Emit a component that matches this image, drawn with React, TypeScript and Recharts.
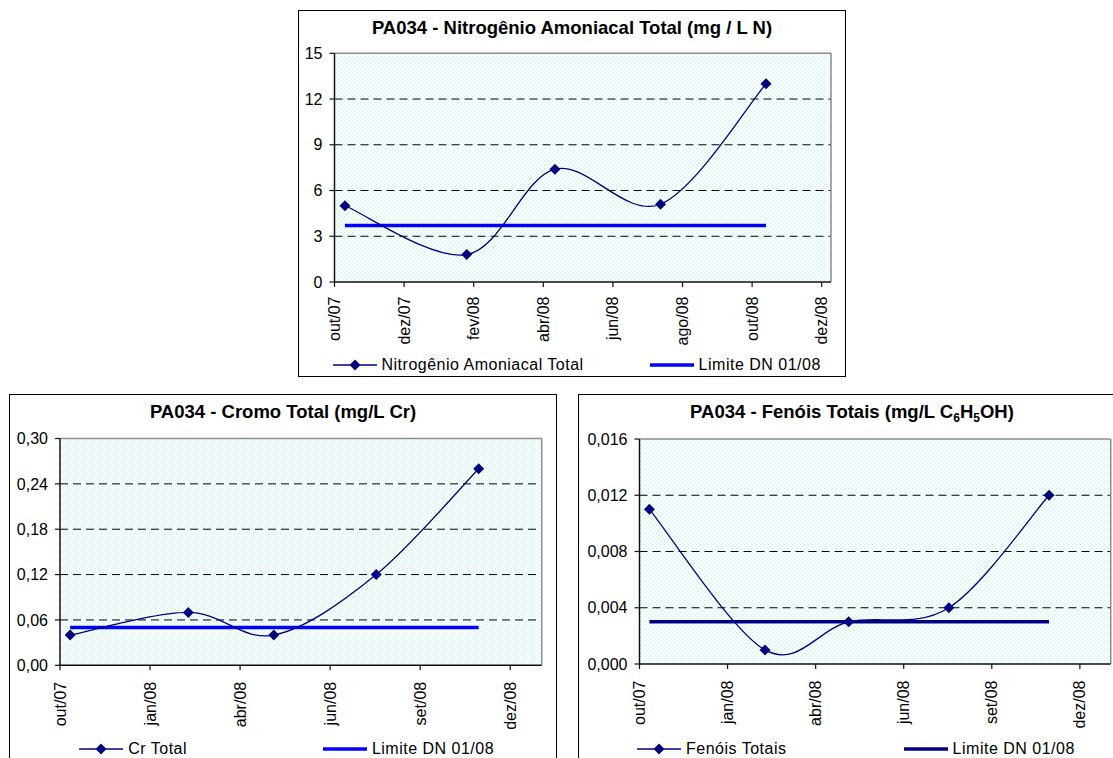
import React from "react";
import {
  LineChart,
  Line,
  XAxis,
  YAxis,
  CartesianGrid,
  ReferenceLine,
  Legend,
} from "recharts";

const FONT = '"Liberation Sans", Arial, Helvetica, sans-serif';
const NAVY = "#000080";
const BLUE = "#0000ff";

// sampling dates (same for the three parameters)
const sampleDates = ["2007-11-07", "2008-02-20", "2008-05-06", "2008-08-05", "2008-11-04"];

const nitrogenioValues = [5.0, 1.8, 7.4, 5.1, 13.0];
const nitrogenioLimit = 3.7;
const cromoValues = [0.04, 0.07, 0.04, 0.12, 0.26];
const cromoLimit = 0.05;
const fenoisValues = [0.011, 0.001, 0.003, 0.004, 0.012];
const fenoisLimit = 0.003;

const axisStart = "2007-10-29";
const axisEnd = "2008-12-30";

const topTickDates = ["2007-10-29", "2007-12-28", "2008-02-26", "2008-04-26", "2008-06-25", "2008-08-24", "2008-10-23", "2008-12-22"];
const topTickLabels = ["out/07", "dez/07", "fev/08", "abr/08", "jun/08", "ago/08", "out/08", "dez/08"];
const bottomTickDates = ["2007-10-29", "2008-01-17", "2008-04-06", "2008-06-25", "2008-09-13", "2008-12-02"];
const bottomTickLabels = ["out/07", "jan/08", "abr/08", "jun/08", "set/08", "dez/08"];

const nitrogenioYTicks = [0, 3, 6, 9, 12, 15];
const cromoYTicks = [0, 0.06, 0.12, 0.18, 0.24, 0.3];
const fenoisYTicks = [0, 0.004, 0.008, 0.012, 0.016];

const toDay = (s: string) => Math.round(Date.parse(s) / 86400000);

// Excel-like smoothed line (Catmull-Rom through the points)
const excelSmooth = (context: any) => {
  let pts: number[][] = [];
  return {
    areaStart() {},
    areaEnd() {},
    lineStart() {
      pts = [];
    },
    point(x: number, y: number) {
      pts.push([+x, +y]);
    },
    lineEnd() {
      const n = pts.length;
      if (!n) return;
      context.moveTo(pts[0][0], pts[0][1]);
      for (let i = 0; i < n - 1; i++) {
        const p0 = pts[Math.max(i - 1, 0)];
        const p1 = pts[i];
        const p2 = pts[i + 1];
        const p3 = pts[Math.min(i + 2, n - 1)];
        context.bezierCurveTo(
          p1[0] + (p2[0] - p0[0]) / 6,
          p1[1] + (p2[1] - p0[1]) / 6,
          p2[0] - (p3[0] - p1[0]) / 6,
          p2[1] - (p3[1] - p1[1]) / 6,
          p2[0],
          p2[1]
        );
      }
    },
  };
};

const Diamond = (props: any) => {
  const { cx, cy, index } = props;
  if (cx == null || cy == null) return null;
  const r = 5.5;
  return (
    <path
      key={`dm-${index}`}
      d={`M${cx},${cy - r}L${cx + r},${cy}L${cx},${cy + r}L${cx - r},${cy}Z`}
      fill={NAVY}
    />
  );
};

const RotatedTick = (props: any) => {
  const { x, y, payload, labels, days } = props;
  const idx = days.indexOf(payload.value);
  return (
    <text
      transform={`translate(${x},${y}) rotate(-90)`}
      textAnchor="end"
      dominantBaseline="central"
      fontSize={16}
      fontFamily={FONT}
      fill="#000"
    >
      {idx >= 0 ? labels[idx] : ""}
    </text>
  );
};

interface LegendItem {
  label: string;
  left: number;
  kind: "series" | "limit";
  color: string;
}

const PanelLegend = ({ items }: { items: LegendItem[] }) => (
  <div style={{ position: "relative", width: 548, height: 20, fontFamily: FONT, fontSize: 16, color: "#000" }}>
    {items.map((it) => (
      <div
        key={it.label}
        style={{ position: "absolute", left: it.left, top: 0, height: 20, display: "flex", alignItems: "center", whiteSpace: "nowrap" }}
      >
        <svg width={44} height={20} style={{ display: "block" }}>
          {it.kind === "series" ? (
            <>
              <line x1={0} y1={10} x2={44} y2={10} stroke={it.color} strokeWidth={1.3} />
              <path d="M22,4.5L27.5,10L22,15.5L16.5,10Z" fill={it.color} />
            </>
          ) : (
            <line x1={0} y1={10} x2={44} y2={10} stroke={it.color} strokeWidth={3.5} />
          )}
        </svg>
        <span style={{ marginLeft: 5, letterSpacing: 0.5 }}>{it.label}</span>
      </div>
    ))}
  </div>
);

interface PanelProps {
  id: string;
  x: number;
  y: number;
  title: React.ReactNode;
  seriesName: string;
  values: number[];
  limit: number;
  limitColor: string;
  yTicks: number[];
  decimals: number;
  tickDates: string[];
  tickLabels: string[];
  margin: { top: number; right: number; bottom: number };
  yAxisWidth: number;
  xTickMargin: number;
  legendLefts: [number, number];
}

const W = 548;
const H = 367;

const Panel = (p: PanelProps) => {
  const data = sampleDates.map((d, i) => ({ day: toDay(d), value: p.values[i], limit: p.limit }));
  const days = p.tickDates.map(toDay);
  const xMin = toDay(axisStart);
  const xMax = toDay(axisEnd);
  const yMax = p.yTicks[p.yTicks.length - 1];
  const fmt = (v: number) => v.toFixed(p.decimals).replace(".", ",");
  const legendItems: LegendItem[] = [
    { label: p.seriesName, left: p.legendLefts[0], kind: "series", color: NAVY },
    { label: "Limite DN 01/08", left: p.legendLefts[1], kind: "limit", color: p.limitColor },
  ];
  return (
    <div style={{ position: "absolute", left: p.x, top: p.y, width: W, height: H, background: "#fff" }}>
      <LineChart
        width={W}
        height={H}
        data={data}
        margin={{ top: p.margin.top, right: p.margin.right, bottom: p.margin.bottom, left: 0 }}
      >
        <defs>
          <pattern id={p.id} width="4" height="4" patternUnits="userSpaceOnUse">
            <rect width="4" height="4" fill="#fbffff" />
            <rect x="0" y="0" width="1.2" height="1.2" fill="#c2f4f4" />
            <rect x="2" y="2" width="1.2" height="1.2" fill="#c2f4f4" />
          </pattern>
        </defs>
        <text x={W / 2} y={24} textAnchor="middle" fontFamily={FONT} fontSize={18.5} fontWeight="bold" fill="#000">
          {p.title}
        </text>
        <CartesianGrid
          fill={`url(#${p.id})`}
          fillOpacity={1}
          vertical={false}
          horizontalValues={p.yTicks.slice(1, -1)}
          stroke="#000"
          strokeDasharray="8 5"
        />
        <ReferenceLine y={yMax} stroke="#8c8c8c" strokeWidth={1.5} />
        <ReferenceLine x={xMax} stroke="#8c8c8c" strokeWidth={1.5} />
        <XAxis
          type="number"
          dataKey="day"
          domain={[xMin, xMax]}
          ticks={days}
          interval={0}
          allowDataOverflow
          height={60}
          tickSize={5}
          tickMargin={p.xTickMargin}
          axisLine={{ stroke: "#111", strokeWidth: 1.5 }}
          tickLine={{ stroke: "#111", strokeWidth: 1.2 }}
          tick={<RotatedTick labels={p.tickLabels} days={days} />}
        />
        <YAxis
          type="number"
          domain={[0, yMax]}
          ticks={p.yTicks}
          interval={0}
          allowDataOverflow
          width={p.yAxisWidth}
          tickSize={5}
          tickMargin={7}
          tickFormatter={fmt}
          axisLine={{ stroke: "#111", strokeWidth: 1.5 }}
          tickLine={{ stroke: "#111", strokeWidth: 1.2 }}
          tick={{ fill: "#000", fontSize: 16, fontFamily: FONT }}
        />
        <Legend
          layout="horizontal"
          verticalAlign="middle"
          align="center"
          wrapperStyle={{ top: 345, left: 0, width: W, height: 20 }}
          content={() => <PanelLegend items={legendItems} />}
        />
        <Line
          dataKey="limit"
          type="linear"
          stroke={p.limitColor}
          strokeWidth={3.5}
          dot={false}
          activeDot={false}
          isAnimationActive={false}
        />
        <Line
          dataKey="value"
          type={excelSmooth as any}
          stroke={NAVY}
          strokeWidth={1.3}
          dot={Diamond}
          activeDot={false}
          isAnimationActive={false}
        />
      </LineChart>
      <div
        style={{ position: "absolute", left: 0, top: 0, width: W, height: H, border: "1.5px solid #000", boxSizing: "border-box", pointerEvents: "none" }}
      />
    </div>
  );
};

export default function App() {
  return (
    <div style={{ position: "absolute", left: 0, top: 0, width: 1113, height: 758, overflow: "hidden", background: "#fff", fontFamily: FONT }}>
      <Panel
        id="dotsTop"
        x={298}
        y={10}
        title="PA034 - Nitrogênio Amoniacal Total (mg / L N)"
        seriesName="Nitrogênio Amoniacal Total"
        values={nitrogenioValues}
        limit={nitrogenioLimit}
        limitColor={BLUE}
        yTicks={nitrogenioYTicks}
        decimals={0}
        tickDates={topTickDates}
        tickLabels={topTickLabels}
        margin={{ top: 43.3, right: 15, bottom: 35 }}
        yAxisWidth={36.5}
        xTickMargin={9.5}
        legendLefts={[34.5, 351.6]}
      />
      <Panel
        id="dotsCr"
        x={9}
        y={394}
        title="PA034 - Cromo Total (mg/L Cr)"
        seriesName="Cr Total"
        values={cromoValues}
        limit={cromoLimit}
        limitColor={BLUE}
        yTicks={cromoYTicks}
        decimals={2}
        tickDates={bottomTickDates}
        tickLabels={bottomTickLabels}
        margin={{ top: 44.5, right: 15.3, bottom: 35.7 }}
        yAxisWidth={51}
        xTickMargin={11.5}
        legendLefts={[70.2, 313.9]}
      />
      <Panel
        id="dotsFen"
        x={578}
        y={394}
        title={
          <>
            PA034 - Fenóis Totais (mg/L C
            <tspan dy={4} fontSize={12}>6</tspan>
            <tspan dy={-4}>H</tspan>
            <tspan dy={4} fontSize={12}>5</tspan>
            <tspan dy={-4}>OH)</tspan>
          </>
        }
        seriesName="Fenóis Totais"
        values={fenoisValues}
        limit={fenoisLimit}
        limitColor={NAVY}
        yTicks={fenoisYTicks}
        decimals={3}
        tickDates={bottomTickDates}
        tickLabels={bottomTickLabels}
        margin={{ top: 45, right: 15.3, bottom: 37 }}
        yAxisWidth={61.5}
        xTickMargin={11.5}
        legendLefts={[59, 325.6]}
      />
    </div>
  );
}
